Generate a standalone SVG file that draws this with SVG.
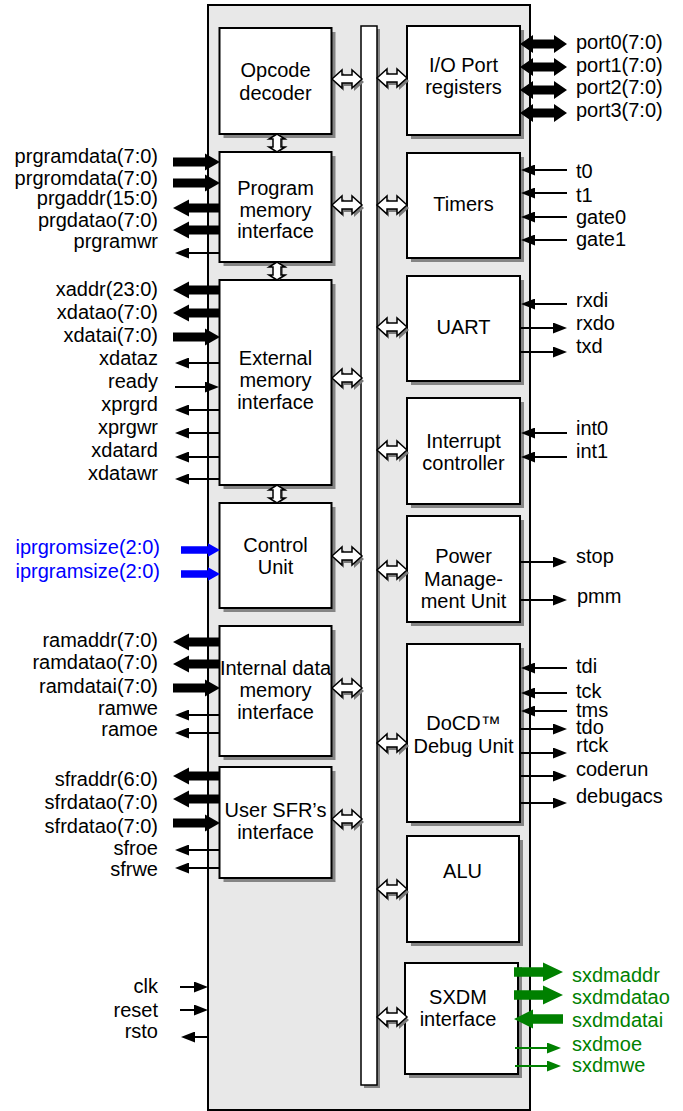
<svg xmlns="http://www.w3.org/2000/svg" width="683" height="1111" viewBox="0 0 683 1111">
<style>
text{font-family:"Liberation Sans",Arial,sans-serif;font-size:20px;fill:#000}
.c{text-anchor:middle}
.e{text-anchor:end}
.blue{fill:#0000ff}
.green{fill:#008000}
.bg{fill:#e8e8e8;stroke:#000;stroke-width:2}
.box{fill:#fff;stroke:#000;stroke-width:2}
.sh{fill:#858585}
.th{fill:#000}
.bl{fill:#0000ff}
.gr{fill:#008000}
.ln{stroke:#000;stroke-width:2;fill:none;marker-end:url(#ah)}
.gln{stroke:#008000;stroke-width:2;fill:none;marker-end:url(#ahg)}
.hol{fill:#fff;stroke:#000;stroke-width:1.5}
.hsh{fill:#7a7a7a}
</style>
<defs>
<marker id="ah" markerWidth="14" markerHeight="11" refX="10" refY="5.5" orient="auto" markerUnits="userSpaceOnUse"><path d="M0,0 L14,5.5 L0,11 Z" fill="#000"/></marker>
<marker id="ahg" markerWidth="14" markerHeight="11" refX="10" refY="5.5" orient="auto" markerUnits="userSpaceOnUse"><path d="M0,0 L14,5.5 L0,11 Z" fill="#008000"/></marker>
<path id="hh" d="M0,0 L10,-9 L10,-4 L20,-4 L20,-9 L30,0 L20,9 L20,4 L10,4 L10,9 Z"/>
<path id="hv" d="M0,0 L8,5 L4,5 L4,13 L8,13 L0,18 L-8,13 L-4,13 L-4,5 L-8,5 Z"/>
<path id="tR" d="M0,-4.5 L32,-4.5 L32,-8.5 L47,0 L32,8.5 L32,4.5 L0,4.5 Z"/>
<path id="tL" d="M0,0 L16,-8.5 L16,-4.5 L47,-4.5 L47,4.5 L16,4.5 L16,8.5 Z"/>
<path id="tD" d="M0,0 L13,-9 L13,-4.5 L34,-4.5 L34,-9 L47,0 L34,9 L34,4.5 L13,4.5 L13,9 Z"/>
<path id="bR" d="M0,-3.7 L27,-3.7 L27,-6.7 L39,0 L27,6.7 L27,3.7 L0,3.7 Z"/>
<path id="gR" d="M0,-4.7 L29,-4.7 L29,-9.5 L49,0 L29,9.5 L29,4.7 L0,4.7 Z"/>
<path id="gL" d="M0,0 L19,-9.5 L19,-4.7 L49,-4.7 L49,4.7 L19,4.7 L19,9.5 Z"/>
</defs>

<rect id="core" class="bg" x="208" y="5" width="322" height="1105"/>

<g id="bus">
<rect class="sh" x="364" y="29" width="16" height="1059"/>
<rect x="361" y="26" width="16" height="1059" fill="#fff" stroke="#000" stroke-width="1.5"/>
</g>

<g id="opcode">
<rect class="sh" x="223.5" y="32" width="112" height="106"/>
<rect class="box" x="219.5" y="28" width="112" height="106"/>
<text class="c" x="275.5" y="77">Opcode</text>
<text class="c" x="275.5" y="100">decoder</text>
</g>
<g id="progmem">
<rect class="sh" x="223.5" y="156" width="112" height="110"/>
<rect class="box" x="219.5" y="152" width="112" height="110"/>
<text class="c" x="275.5" y="195">Program</text>
<text class="c" x="275.5" y="216.5">memory</text>
<text class="c" x="275.5" y="238">interface</text>
</g>
<g id="extmem">
<rect class="sh" x="223.5" y="284" width="112" height="205"/>
<rect class="box" x="219.5" y="280" width="112" height="205"/>
<text class="c" x="275.5" y="365">External</text>
<text class="c" x="275.5" y="387">memory</text>
<text class="c" x="275.5" y="409">interface</text>
</g>
<g id="control">
<rect class="sh" x="223.5" y="507" width="112" height="105"/>
<rect class="box" x="219.5" y="503" width="112" height="105"/>
<text class="c" x="275.5" y="552">Control</text>
<text class="c" x="275.5" y="574">Unit</text>
</g>
<g id="intdata">
<rect class="sh" x="223.5" y="630" width="112" height="130"/>
<rect class="box" x="219.5" y="626" width="112" height="130"/>
<text class="c" x="275.5" y="675">Internal data</text>
<text class="c" x="275.5" y="697">memory</text>
<text class="c" x="275.5" y="719">interface</text>
</g>
<g id="usersfr">
<rect class="sh" x="223.5" y="771" width="112" height="111"/>
<rect class="box" x="219.5" y="767" width="112" height="111"/>
<text class="c" x="275.5" y="817">User SFR’s</text>
<text class="c" x="275.5" y="838.5">interface</text>
</g>

<g id="ioport">
<rect class="sh" x="411" y="30" width="113" height="109"/>
<rect class="box" x="407" y="26" width="113" height="109"/>
<text class="c" x="463.5" y="72">I/O Port</text>
<text class="c" x="463.5" y="94">registers</text>
</g>
<g id="timers">
<rect class="sh" x="411" y="157" width="113" height="105"/>
<rect class="box" x="407" y="153" width="113" height="105"/>
<text class="c" x="463.5" y="211">Timers</text>
</g>
<g id="uart">
<rect class="sh" x="411" y="280" width="113" height="105"/>
<rect class="box" x="407" y="276" width="113" height="105"/>
<text class="c" x="463.5" y="333.5">UART</text>
</g>
<g id="interrupt">
<rect class="sh" x="411" y="402" width="113" height="106"/>
<rect class="box" x="407" y="398" width="113" height="106"/>
<text class="c" x="463.5" y="447.5">Interrupt</text>
<text class="c" x="463.5" y="469.5">controller</text>
</g>
<g id="power">
<rect class="sh" x="411" y="520" width="113" height="106"/>
<rect class="box" x="407" y="516" width="113" height="106"/>
<text class="c" x="463.5" y="563">Power</text>
<text class="c" x="463.5" y="585.5">Manage-</text>
<text class="c" x="463.5" y="608">ment Unit</text>
</g>
<g id="docd">
<rect class="sh" x="411" y="648" width="113" height="178"/>
<rect class="box" x="407" y="644" width="113" height="178"/>
<text class="c" x="463.5" y="730">DoCD™</text>
<text class="c" x="463.5" y="752.5">Debug Unit</text>
</g>
<g id="alu">
<rect class="sh" x="411" y="840" width="112" height="106"/>
<rect class="box" x="407" y="836" width="112" height="106"/>
<text class="c" x="462.5" y="877.5">ALU</text>
</g>
<g id="sxdm">
<rect class="sh" x="409" y="967" width="113" height="111"/>
<rect class="box" x="405" y="963" width="113" height="111"/>
<text class="c" x="458" y="1004">SXDM</text>
<text class="c" x="458" y="1026">interface</text>
</g>

<g id="connectors">
<g class="hsh">
<use href="#hh" transform="translate(334,82)"/>
<use href="#hh" transform="translate(334,208)"/>
<use href="#hh" transform="translate(334,381)"/>
<use href="#hh" transform="translate(334,559)"/>
<use href="#hh" transform="translate(334,691)"/>
<use href="#hh" transform="translate(334,822)"/>
<use href="#hh" transform="translate(379,81)"/>
<use href="#hh" transform="translate(379,208)"/>
<use href="#hh" transform="translate(379,330)"/>
<use href="#hh" transform="translate(379,453)"/>
<use href="#hh" transform="translate(379,573)"/>
<use href="#hh" transform="translate(379,746)"/>
<use href="#hh" transform="translate(379,892)"/>
<use href="#hh" transform="translate(379,1020)"/>
<use href="#hv" transform="translate(279,134)"/>
<use href="#hv" transform="translate(279,262)"/>
<use href="#hv" transform="translate(279,485)"/>
</g>
<g class="hol">
<use href="#hh" transform="translate(332,79)"/>
<use href="#hh" transform="translate(332,205)"/>
<use href="#hh" transform="translate(332,378)"/>
<use href="#hh" transform="translate(332,556)"/>
<use href="#hh" transform="translate(332,688)"/>
<use href="#hh" transform="translate(332,819)"/>
<use href="#hh" transform="translate(377,78)"/>
<use href="#hh" transform="translate(377,205)"/>
<use href="#hh" transform="translate(377,327)"/>
<use href="#hh" transform="translate(377,450)"/>
<use href="#hh" transform="translate(377,570)"/>
<use href="#hh" transform="translate(377,743)"/>
<use href="#hh" transform="translate(377,889)"/>
<use href="#hh" transform="translate(377,1017)"/>
<use href="#hv" transform="translate(277,134)"/>
<use href="#hv" transform="translate(277,262)"/>
<use href="#hv" transform="translate(277,485)"/>
</g>

<g class="th">
<use href="#tR" transform="translate(173,162)"/>
<use href="#tR" transform="translate(173,183)"/>
<use href="#tL" transform="translate(173,208)"/>
<use href="#tL" transform="translate(173,230)"/>
<use href="#tL" transform="translate(173,290)"/>
<use href="#tL" transform="translate(173,313)"/>
<use href="#tR" transform="translate(173,337)"/>
<use href="#tL" transform="translate(173,642)"/>
<use href="#tL" transform="translate(173,664)"/>
<use href="#tR" transform="translate(173,688)"/>
<use href="#tL" transform="translate(173,776)"/>
<use href="#tL" transform="translate(173,799)"/>
<use href="#tR" transform="translate(173,823)"/>
<use href="#tD" transform="translate(520,44)"/>
<use href="#tD" transform="translate(520,67)"/>
<use href="#tD" transform="translate(520,90)"/>
<use href="#tD" transform="translate(520,113)"/>
</g>
<g class="bl">
<use href="#bR" transform="translate(181,550)"/>
<use href="#bR" transform="translate(181,574)"/>
</g>
<g class="gr">
<use href="#gR" transform="translate(514,972)"/>
<use href="#gR" transform="translate(514,995)"/>
<use href="#gL" transform="translate(514,1019)"/>
</g>

<line class="ln" x1="219" y1="253" x2="179" y2="253"/>
<line class="ln" x1="219" y1="363" x2="179" y2="363"/>
<line class="ln" x1="175" y1="387" x2="215" y2="387"/>
<line class="ln" x1="219" y1="410" x2="179" y2="410"/>
<line class="ln" x1="219" y1="433" x2="179" y2="433"/>
<line class="ln" x1="219" y1="457" x2="179" y2="457"/>
<line class="ln" x1="219" y1="479" x2="179" y2="479"/>
<line class="ln" x1="219" y1="715" x2="179" y2="715"/>
<line class="ln" x1="219" y1="733" x2="179" y2="733"/>
<line class="ln" x1="219" y1="850" x2="179" y2="850"/>
<line class="ln" x1="219" y1="868" x2="179" y2="868"/>
<line class="ln" x1="180" y1="987" x2="204" y2="987"/>
<line class="ln" x1="180" y1="1010" x2="204" y2="1010"/>
<line class="ln" x1="208" y1="1037" x2="185" y2="1037"/>

<line class="ln" x1="567" y1="170" x2="525" y2="170"/>
<line class="ln" x1="567" y1="193" x2="525" y2="193"/>
<line class="ln" x1="567" y1="217" x2="525" y2="217"/>
<line class="ln" x1="567" y1="240" x2="525" y2="240"/>
<line class="ln" x1="567" y1="304" x2="525" y2="304"/>
<line class="ln" x1="520" y1="328" x2="563" y2="328"/>
<line class="ln" x1="520" y1="352" x2="563" y2="352"/>
<line class="ln" x1="567" y1="433" x2="525" y2="433"/>
<line class="ln" x1="567" y1="457" x2="525" y2="457"/>
<line class="ln" x1="520" y1="562" x2="563" y2="562"/>
<line class="ln" x1="520" y1="600" x2="563" y2="600"/>
<line class="ln" x1="567" y1="668" x2="525" y2="668"/>
<line class="ln" x1="567" y1="693" x2="525" y2="693"/>
<line class="ln" x1="567" y1="711" x2="525" y2="711"/>
<line class="ln" x1="520" y1="729" x2="563" y2="729"/>
<line class="ln" x1="520" y1="753" x2="563" y2="753"/>
<line class="ln" x1="520" y1="776" x2="563" y2="776"/>
<line class="ln" x1="520" y1="803" x2="563" y2="803"/>
<line class="gln" x1="515" y1="1048" x2="557" y2="1048"/>
<line class="gln" x1="515" y1="1066" x2="557" y2="1066"/>
</g>

<g id="labels-left" class="e">
<text x="158" y="163">prgramdata(7:0)</text>
<text x="158" y="185">prgromdata(7:0)</text>
<text x="158" y="205">prgaddr(15:0)</text>
<text x="158" y="226.5">prgdatao(7:0)</text>
<text x="158" y="248">prgramwr</text>
<text x="158" y="296">xaddr(23:0)</text>
<text x="158" y="319">xdatao(7:0)</text>
<text x="158" y="342">xdatai(7:0)</text>
<text x="158" y="365">xdataz</text>
<text x="158" y="388">ready</text>
<text x="158" y="411">xprgrd</text>
<text x="158" y="434">xprgwr</text>
<text x="158" y="457">xdatard</text>
<text x="158" y="480">xdatawr</text>
<text class="blue" x="160" y="554">iprgromsize(2:0)</text>
<text class="blue" x="160" y="577.5">iprgramsize(2:0)</text>
<text x="158" y="646.5">ramaddr(7:0)</text>
<text x="158" y="669">ramdatao(7:0)</text>
<text x="158" y="692.5">ramdatai(7:0)</text>
<text x="158" y="715">ramwe</text>
<text x="158" y="736">ramoe</text>
<text x="158" y="786">sfraddr(6:0)</text>
<text x="158" y="808.5">sfrdatao(7:0)</text>
<text x="158" y="832.5">sfrdatao(7:0)</text>
<text x="158" y="855">sfroe</text>
<text x="158" y="876">sfrwe</text>
<text x="158" y="993">clk</text>
<text x="158" y="1016.5">reset</text>
<text x="158" y="1038">rsto</text>
</g>
<g id="labels-right">
<text x="576" y="49">port0(7:0)</text>
<text x="576" y="71.5">port1(7:0)</text>
<text x="576" y="94">port2(7:0)</text>
<text x="576" y="116.5">port3(7:0)</text>
<text x="576" y="178">t0</text>
<text x="576" y="201.5">t1</text>
<text x="576" y="224">gate0</text>
<text x="576" y="246">gate1</text>
<text x="576" y="306.5">rxdi</text>
<text x="576" y="330">rxdo</text>
<text x="576" y="353">txd</text>
<text x="576" y="435">int0</text>
<text x="576" y="458">int1</text>
<text x="576" y="563">stop</text>
<text x="577" y="603">pmm</text>
<text x="576" y="673">tdi</text>
<text x="576" y="698">tck</text>
<text x="576" y="716.5">tms</text>
<text x="576" y="734">tdo</text>
<text x="576" y="752">rtck</text>
<text x="576" y="775.5">coderun</text>
<text x="576" y="803">debugacs</text>
<text class="green" x="572" y="981.5">sxdmaddr</text>
<text class="green" x="572" y="1004">sxdmdatao</text>
<text class="green" x="572" y="1026.5">sxdmdatai</text>
<text class="green" x="572" y="1050.5">sxdmoe</text>
<text class="green" x="572" y="1072">sxdmwe</text>
</g>
</svg>
